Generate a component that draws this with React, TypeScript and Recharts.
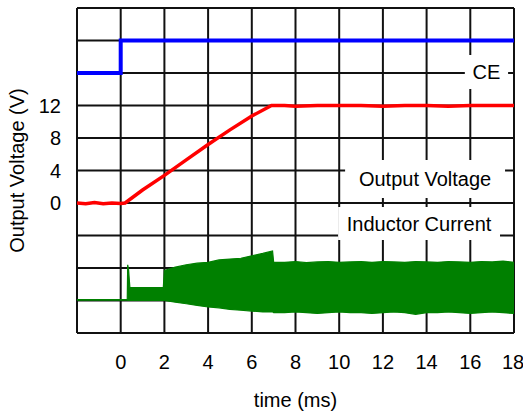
import React from "react";
import {
  ComposedChart,
  Line,
  Area,
  XAxis,
  YAxis,
  CartesianGrid,
  ReferenceArea,
} from "recharts";

// time axis (ms) and voltage grid
const xTicks = [-2, 0, 2, 4, 6, 8, 10, 12, 14, 16, 18];
const yTicks = [-16, -12, -8, -4, 0, 4, 8, 12, 16, 20, 24];
const yLabelled = [0, 4, 8, 12];

// CE enable signal (drawn in the upper band)
const ceTime = [-2, 0, 0, 18];
const ceLevel = [16, 16, 20, 20];

// output voltage (V)
const voltageTime = [-2, -1.6, -1.2, -0.8, -0.4, 0, 0.2, 1, 2, 3, 4, 5, 6, 6.9, 7.5, 8, 9, 10, 11, 12, 13, 14, 15, 16, 17, 18];
const voltageValue = [0, -0.1, 0.05, -0.1, 0, -0.05, 0, 1.6, 3.4, 5.3, 7.2, 9.0, 10.7, 12, 12, 11.9, 12, 12, 12, 11.9, 12, 12, 11.9, 12, 12, 12];

// inductor current envelope (offset into the lower band)
const currentTime = [-2, 0.3, 0.32, 0.36, 0.42, 1.95, 2, 2.5, 3, 3.5, 4, 4.5, 5, 5.5, 6, 6.5, 6.95, 7, 7.5, 8, 8.5, 9, 9.5, 10, 10.5, 11, 11.5, 12, 12.5, 13, 13.5, 14, 14.5, 15, 15.5, 16, 16.5, 17, 17.5, 18];
const currentHigh = [-11.88, -11.88, -7.6, -8.2, -10.4, -10.4, -8.3, -7.9, -7.6, -7.4, -7.3, -7.0, -6.9, -6.8, -6.5, -6.2, -5.9, -7.3, -7.3, -7.2, -7.35, -7.25, -7.2, -7.3, -7.25, -7.2, -7.3, -7.2, -7.25, -7.3, -7.2, -7.25, -7.3, -7.2, -7.25, -7.3, -7.2, -7.25, -7.15, -7.3];
const currentLow = [-11.95, -11.95, -12.0, -12.0, -12.0, -12.0, -12.0, -12.2, -12.4, -12.6, -12.8, -12.9, -13.1, -13.2, -13.3, -13.4, -13.4, -13.5, -13.5, -13.4, -13.5, -13.6, -13.5, -13.4, -13.5, -13.5, -13.6, -13.5, -13.4, -13.5, -13.7, -13.5, -13.5, -13.4, -13.5, -13.6, -13.5, -13.4, -13.5, -13.6];

const ceData = ceTime.map((t, i) => ({ t, v: ceLevel[i] }));
const voltageData = voltageTime.map((t, i) => ({ t, v: voltageValue[i] }));
const currentData = currentTime.map((t, i) => ({ t, range: [currentLow[i], currentHigh[i]] }));

const font = "'Liberation Sans', Arial, sans-serif";

const boxLabel = (text: string) => ({
  value: text,
  position: "center" as const,
  fill: "#000",
  fontSize: 20,
  fontFamily: font,
});

export default function App() {
  return (
    <div style={{ width: 523, height: 412, fontFamily: font, background: "#fff" }}>
      <style>{"body{margin:0}"}</style>
      <ComposedChart width={523} height={412} margin={{ top: 8, right: 9, left: 0, bottom: 0 }}>
        <CartesianGrid stroke="#111" strokeWidth={2} strokeOpacity={1} />
        <XAxis
          dataKey="t"
          type="number"
          domain={[-2, 18]}
          ticks={xTicks}
          tickFormatter={(v) => (v === -2 ? "" : String(v))}
          allowDataOverflow
          axisLine={false}
          tickLine={false}
          tickSize={0}
          tickMargin={22}
          height={79}
          tick={{ fill: "#000", fontSize: 20, fontFamily: font }}
          label={{
            content: (props: any) => {
              const vb = props.viewBox;
              return (
                <text x={vb.x + vb.width / 2} y={vb.y + 67} textAnchor="middle" dominantBaseline="central" fontSize={20} fontFamily={font} fill="#000">
                  time (ms)
                </text>
              );
            },
          }}
        />
        <YAxis
          type="number"
          domain={[-16, 24]}
          ticks={yTicks}
          tickFormatter={(v) => (yLabelled.includes(v) ? String(v) : "")}
          allowDataOverflow
          axisLine={false}
          tickLine={false}
          tickSize={0}
          tickMargin={16}
          width={77}
          tick={{ fill: "#000", fontSize: 20, fontFamily: font }}
          label={{
            content: (props: any) => {
              const vb = props.viewBox;
              const cx = vb.x + 17;
              const cy = vb.y + vb.height / 2;
              return (
                <text x={cx} y={cy} transform={`rotate(-90 ${cx} ${cy})`} textAnchor="middle" dominantBaseline="central" fontSize={20} fontFamily={font} fill="#000">
                  Output Voltage (V)
                </text>
              );
            },
          }}
        />
        <ReferenceArea x1={15.75} x2={17.73} y1={14.03} y2={18.22} fill="#fff" fillOpacity={1} stroke="none" label={boxLabel("CE")} />
        <ReferenceArea x1={10.27} x2={17.59} y1={0.62} y2={5.29} fill="#fff" fillOpacity={1} stroke="none" label={boxLabel("Output Voltage")} />
        <ReferenceArea x1={9.95} x2={17.36} y1={-4.55} y2={-0.49} fill="#fff" fillOpacity={1} stroke="none" label={boxLabel("Inductor Current")} />
        <Area
          data={currentData}
          dataKey="range"
          type="linear"
          stroke="#008000"
          strokeWidth={1.2}
          fill="#008000"
          fillOpacity={1}
          isAnimationActive={false}
        />
        <Line data={voltageData} dataKey="v" type="linear" stroke="#ff0000" strokeWidth={3.5} dot={false} isAnimationActive={false} />
        <Line data={ceData} dataKey="v" type="linear" stroke="#0000ff" strokeWidth={4} dot={false} isAnimationActive={false} />
      </ComposedChart>
    </div>
  );
}
